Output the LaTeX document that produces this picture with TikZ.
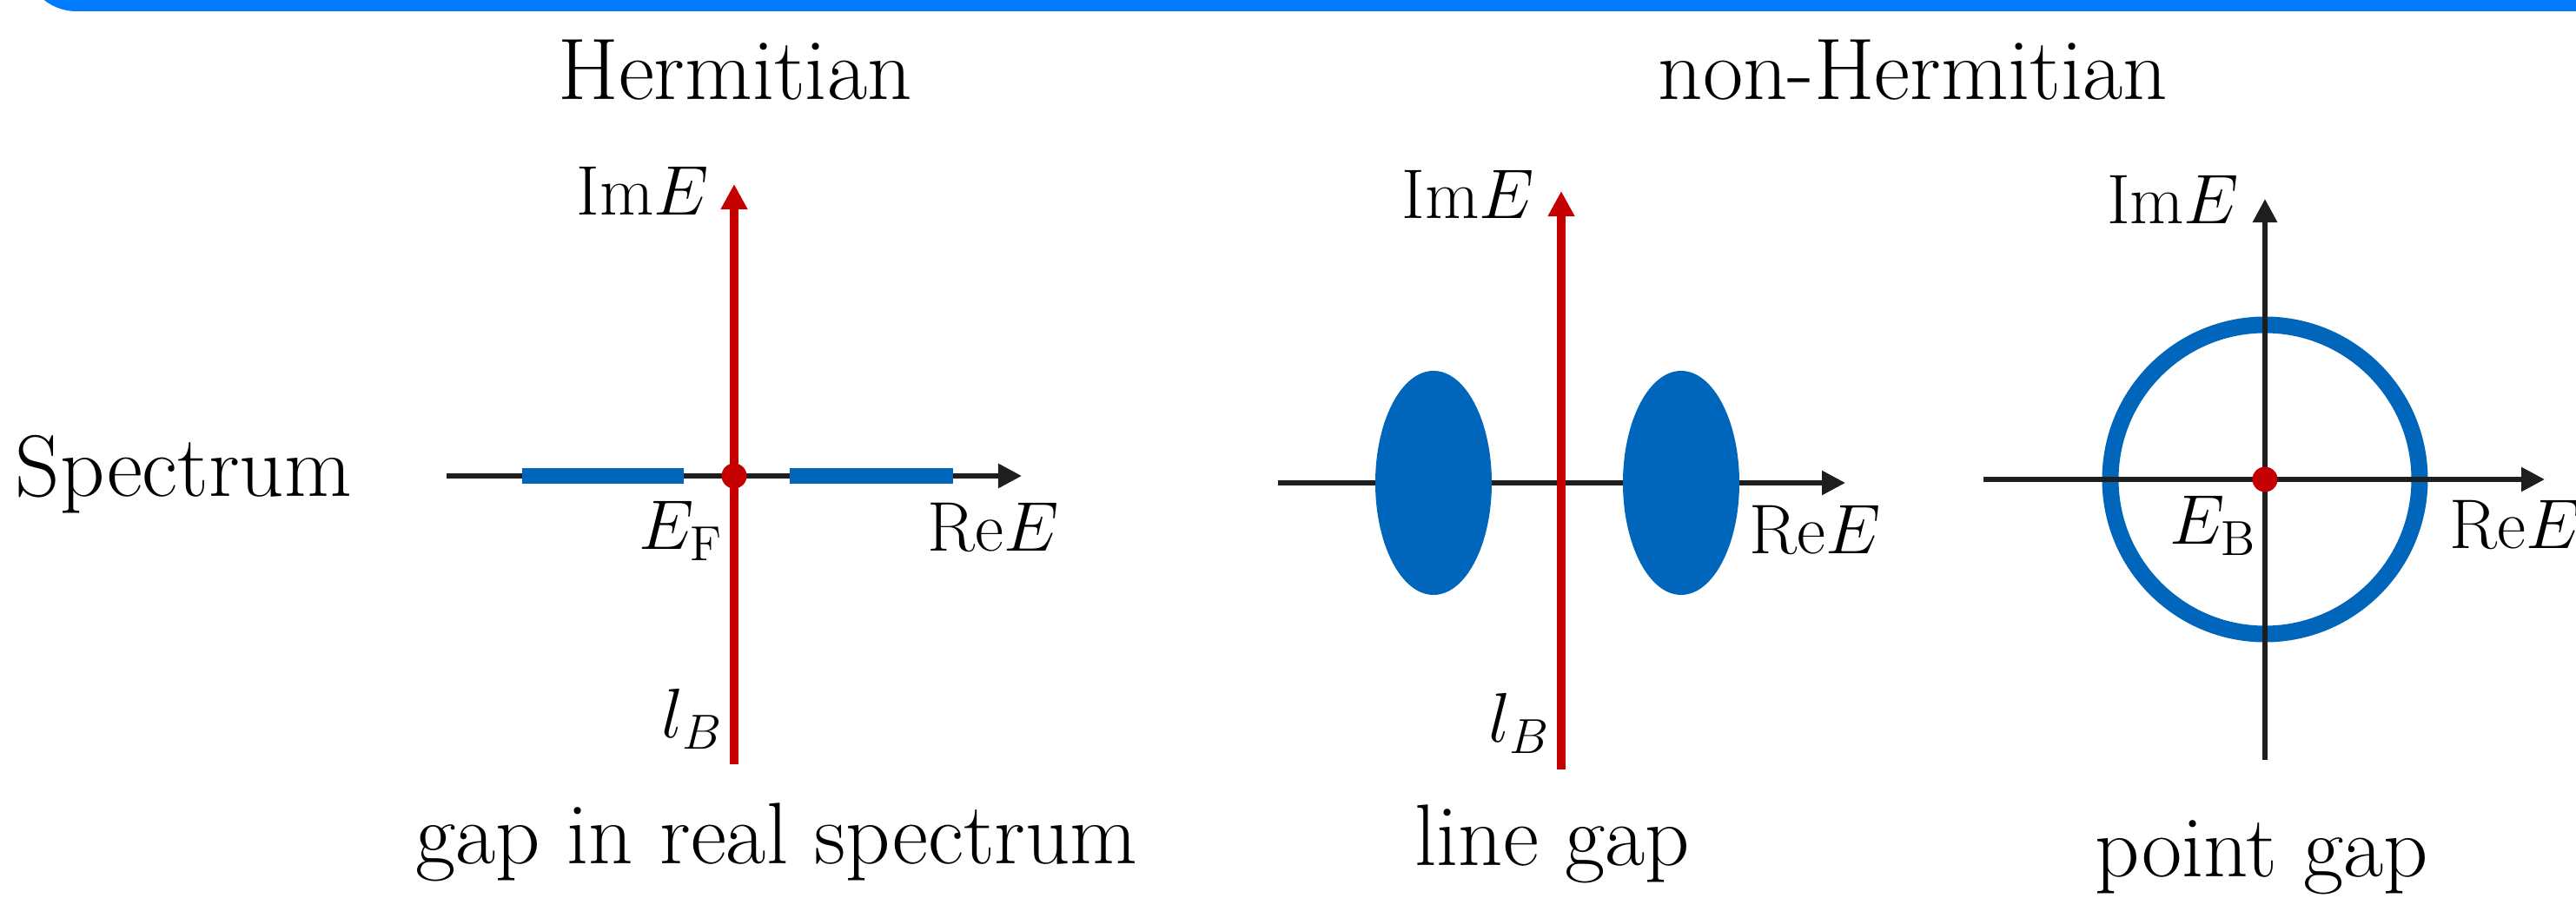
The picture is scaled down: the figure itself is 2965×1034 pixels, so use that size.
\RequirePackage{fix-cm}
\documentclass[tikz,border=0pt]{standalone}
\usetikzlibrary{arrows.meta, positioning}
\definecolor{barblue}{RGB}{0,122,255}
\definecolor{specblue}{RGB}{0,102,187}
\definecolor{gapred}{RGB}{196,0,0}
\definecolor{axisgray}{RGB}{30,30,30}

\begin{document}
\begin{tikzpicture}[
    x=0.01cm, y=-0.01cm,
    title/.style={inner sep=0pt, anchor=base, font=\fontsize{28.6}{34}\selectfont},
    lbl/.style={inner sep=0pt, font=\fontsize{23}{27}\selectfont},
    axis/.style={-{Triangle[length=0.27cm, width=0.27cm]}, line width=1.7pt, draw=axisgray},
    bline/.style={-{Triangle[length=0.29cm, width=0.29cm]}, line width=2.7pt, draw=gapred},
    band/.style={line width=5.2pt, draw=specblue},
    dot/.style={circle, fill=gapred, inner sep=0pt, minimum size=0.29cm}
]
    \useasboundingbox (0,0) rectangle (2965,1034);
    % Top bar
    \fill[barblue, rounded corners=0.6cm] (28,-120) rectangle (3100,13);

    % Titles
    \node[title] (herm) at (846,115) {Hermitian};
    \node[title] (nonherm) at (2202,115) {non-Hermitian};
    \node[title, anchor=base west] (spec) at (17,572) {Spectrum};

    % Hermitian: gap in real spectrum
    \coordinate (o1) at (845,548);
    \coordinate (w1) at (514,548);
    \coordinate (e1) at (1176,548);
    \coordinate (s1) at (845,880);
    \coordinate (n1) at (845,212);
    \draw[axis] (w1) -- (e1);
    \draw[band] (601,548) -- (787,548);
    \draw[band] (909,548) -- (1097,548);
    \draw[bline] (s1) -- (n1);
    \node[dot] (ef) at (o1) {};
    \node[lbl, anchor=base east] (im1) at (817,248) {$\mathrm{Im}E$};
    \node[lbl, anchor=base east] (eF) at (833,633) {$E_{\mathrm{F}}$};
    \node[lbl, anchor=base west] (re1) at (1067,635) {$\mathrm{Re}E$};
    \node[lbl, anchor=base east] (lb1) at (833,850) {$l_B$};
    \node[title] (gap1) at (894,995) {gap in real spectrum};

    % non-Hermitian: line gap
    \coordinate (o2) at (1797,556);
    \coordinate (w2) at (1471,556);
    \coordinate (e2) at (2124,556);
    \coordinate (s2) at (1797,886);
    \coordinate (n2) at (1797,220);
    \draw[axis] (w2) -- (e2);
    \fill[specblue] (1650,556) ellipse[x radius=67, y radius=129];
    \fill[specblue] (1935,556) ellipse[x radius=67, y radius=129];
    \draw[bline] (s2) -- (n2);
    \node[lbl, anchor=base east] (im2) at (1767,252) {$\mathrm{Im}E$};
    \node[lbl, anchor=base west] (re2) at (2013,638) {$\mathrm{Re}E$};
    \node[lbl, anchor=base east] (lb2) at (1785,855) {$l_B$};
    \node[title] (gap2) at (1787,997) {line gap};

    % non-Hermitian: point gap
    \coordinate (o3) at (2607,552);
    \coordinate (w3) at (2283,552);
    \coordinate (e3) at (2929,552);
    \coordinate (s3) at (2607,875);
    \coordinate (n3) at (2607,229);
    \draw[specblue, line width=5.4pt] (o3) circle[radius=178];
    \draw[axis] (w3) -- (e3);
    \draw[axis] (s3) -- (n3);
    \node[dot] (eb) at (o3) {};
    \node[lbl, anchor=base east] (im3) at (2578,258) {$\mathrm{Im}E$};
    \node[lbl, anchor=base east] (eB) at (2598,627) {$E_{\mathrm{B}}$};
    \node[lbl, anchor=base west] (re3) at (2819,632) {$\mathrm{Re}E$};
    \node[title] (gap3) at (2603,1010) {point gap};
\end{tikzpicture}
\end{document}
